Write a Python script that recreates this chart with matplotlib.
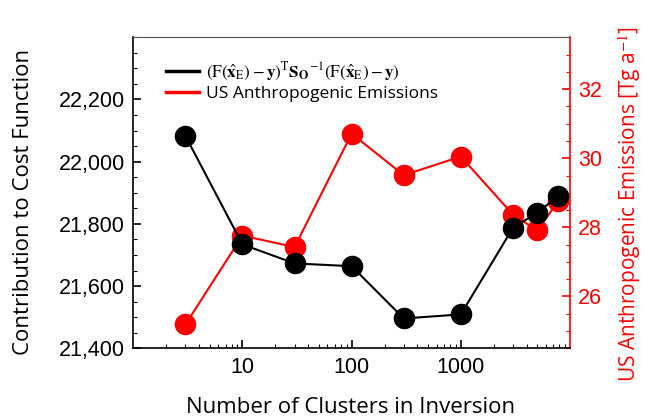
import matplotlib
matplotlib.use("Agg")
import matplotlib.pyplot as plt
from matplotlib.lines import Line2D
from matplotlib.ticker import MultipleLocator, StrMethodFormatter, LogLocator, NullFormatter, FixedLocator

clusters = [3, 10, 30, 100, 300, 1000, 3000, 5000, 7800]
cost = [22083, 21734, 21673, 21664, 21496, 21509, 21787, 21836, 21889]
emissions = [25.19, 27.76, 27.43, 30.71, 29.51, 30.05, 28.37, 27.91, 28.75]
x_ticks = [10, 100, 1000]

plt.rcParams['mathtext.fontset'] = 'stix'
tick_font = 'Liberation Sans'
label_font = 'Open Sans'

W, H = 645, 419
fig = plt.figure(figsize=(6.45, 4.19), dpi=100)
ax = fig.add_axes([0.2067, 0.1687, 0.8837 - 0.2067, 0.911 - 0.1687])
ax2 = ax.twinx()
ax.set_zorder(ax2.get_zorder() + 1)
ax.patch.set_visible(False)

ax.plot(clusters, cost, color='black', lw=1.5, marker='o', ms=14.5, zorder=3)
ax2.plot(clusters, emissions, color='red', lw=1.5, marker='o', ms=14.5, zorder=2)

ax.set_xscale('log')
ax.set_xlim(1, 10000)
ax.set_ylim(21400, 22400)
ax2.set_ylim(24.5, 33.5)

ax.xaxis.set_major_locator(FixedLocator(x_ticks))
ax.xaxis.set_major_formatter(StrMethodFormatter('{x:.0f}'))
ax.xaxis.set_minor_locator(LogLocator(base=10, subs=range(2, 10)))
ax.xaxis.set_minor_formatter(NullFormatter())

ax.yaxis.set_major_locator(FixedLocator([21400, 21600, 21800, 22000, 22200]))
ax.yaxis.set_minor_locator(MultipleLocator(50))
ax.yaxis.set_major_formatter(StrMethodFormatter('{x:,.0f}'))
ax2.yaxis.set_major_locator(FixedLocator([26, 28, 30, 32]))
ax2.yaxis.set_minor_locator(MultipleLocator(0.5))

ax.tick_params(axis='both', which='major', direction='in', length=6, width=1.2,
               labelsize=15.5, pad=6)
ax.tick_params(axis='both', which='minor', direction='in', length=3, width=0.8)
ax2.tick_params(axis='y', which='major', direction='in', length=6, width=1.2,
                labelsize=15.5, colors='red', pad=6)
ax2.tick_params(axis='y', which='minor', direction='in', length=3, width=0.8, colors='red')
for lab in ax.get_xticklabels() + ax.get_yticklabels() + ax2.get_yticklabels():
    lab.set_fontfamily(tick_font)

for s in ['left', 'bottom']:
    ax.spines[s].set_linewidth(1.2)
ax.spines['right'].set_visible(False)
ax.spines['top'].set_color('#555555')
ax2.spines['right'].set_color('red')
ax2.spines['right'].set_linewidth(1.2)
ax2.spines['left'].set_visible(False)
ax2.spines['top'].set_visible(False)
ax2.spines['bottom'].set_visible(False)

fs_lab = 16
fig.text(351 / W, 1 - 413 / H, 'Number of Clusters in Inversion', fontsize=fs_lab,
         family=label_font, ha='center', va='baseline')
fig.text(24 / W, 1 - 202 / H, 'Contribution to Cost Function', fontsize=fs_lab,
         family=label_font, ha='center', va='center', rotation=90)
fig.text(630 / W, 1 - 204 / H, 'US Anthropogenic Emissions [Tg a$^{-1}$]', fontsize=15,
         family=label_font, ha='center', va='center', rotation=90, color='red')

label1 = (r'$(\mathrm{F}(\hat{\mathbf{x}}_{\mathrm{E}})-\mathbf{y})^{\mathrm{T}}'
          r'\mathbf{S}_{\mathbf{O}}{}^{-1}(\mathrm{F}(\hat{\mathbf{x}}_{\mathrm{E}})-\mathbf{y})$')
handles = [Line2D([], [], color='black', lw=2.5), Line2D([], [], color='red', lw=2.5)]
leg = ax.legend(handles, [label1, 'US Anthropogenic Emissions'], loc='upper left',
                bbox_to_anchor=(0.06, 0.947), frameon=False, handlelength=1.9,
                handletextpad=0.4, labelspacing=0.15, borderaxespad=0,
                prop={'family': label_font, 'size': 12.5})
leg.get_texts()[0].set_fontsize(12.3)

fig.savefig('out.png', dpi=100)
